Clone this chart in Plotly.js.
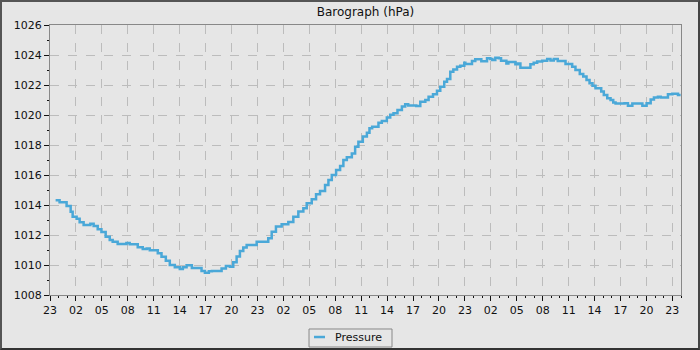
<!DOCTYPE html>
<html>
<head>
<meta charset="utf-8">
<script src="https://cdn.plot.ly/plotly-3.0.1.min.js"></script>
<style>
html,body{margin:0;padding:0;background:#e6e6e6;}
#frame{width:700px;height:350px;box-sizing:border-box;border:2px solid #555;border-right-color:#444;border-bottom-color:#333;}
#chart{width:696px;height:346px;}
</style>
</head>
<body>
<div id="frame"><div id="chart"></div></div>
<script>
// Hours since the first 23:00 tick
const hours = [0.65,1.11,1.92,2.39,2.62,3.08,3.43,3.89,4.67,5.05,5.52,5.95,6.44,6.91,7.25,7.83,8.84,9.22,10.15,10.73,11.19,11.54,12.47,12.90,13.40,13.86,14.44,15.02,15.37,15.80,16.41,17.53,17.92,18.38,18.73,19.85,20.35,20.81,21.20,21.59,21.97,22.36,22.75,23.91,25.25,25.65,26.14,26.80,27.57,28.15,28.73,29.31,29.70,30.28,30.78,31.24,31.82,32.21,32.60,33.10,33.56,33.94,34.34,34.92,35.30,35.68,36.19,36.66,36.96,37.27,38.00,38.39,38.97,39.36,39.74,40.20,40.71,41.09,41.44,42.37,42.84,43.42,43.80,44.31,44.77,45.15,45.61,45.93,46.31,46.66,47.09,47.47,47.93,48.05,48.82,49.20,49.90,50.56,50.94,51.17,51.52,51.91,52.18,52.80,53.03,53.84,54.11,54.42,55.58,55.96,56.36,56.94,57.52,57.90,58.28,58.74,59.64,60.41,60.79,61.29,61.69,62.07,62.42,62.76,63.11,63.77,64.07,64.47,64.85,65.16,65.43,66.47,66.86,67.37,68.53,69.02,69.49,69.87,70.33,70.65,71.49,72.00,72.65,72.96];
const pressure = [1014.32,1014.18,1013.93,1013.55,1013.22,1013.09,1012.85,1012.67,1012.75,1012.60,1012.38,1012.20,1011.89,1011.67,1011.55,1011.40,1011.47,1011.38,1011.18,1011.07,1011.10,1010.98,1010.78,1010.55,1010.29,1010.00,1009.85,1009.73,1009.85,1009.98,1009.80,1009.60,1009.49,1009.58,1009.60,1009.76,1009.93,1009.89,1010.18,1010.56,1010.93,1011.16,1011.33,1011.55,1011.78,1012.22,1012.56,1012.71,1012.87,1013.22,1013.56,1013.78,1014.11,1014.38,1014.71,1014.93,1015.33,1015.67,1016.00,1016.33,1016.60,1017.00,1017.18,1017.44,1017.89,1018.22,1018.56,1018.82,1019.11,1019.22,1019.49,1019.60,1019.84,1020.02,1020.11,1020.33,1020.56,1020.71,1020.64,1020.60,1020.89,1021.00,1021.22,1021.38,1021.62,1021.89,1022.22,1022.40,1022.89,1023.04,1023.22,1023.29,1023.49,1023.40,1023.60,1023.71,1023.58,1023.78,1023.73,1023.67,1023.82,1023.78,1023.62,1023.44,1023.53,1023.38,1023.44,1023.15,1023.38,1023.49,1023.56,1023.62,1023.73,1023.64,1023.73,1023.60,1023.40,1023.22,1023.00,1022.73,1022.56,1022.33,1022.11,1021.95,1021.78,1021.56,1021.33,1021.11,1021.00,1020.84,1020.76,1020.78,1020.62,1020.76,1020.62,1020.78,1021.04,1021.16,1021.22,1021.16,1021.38,1021.42,1021.33,1021.33];
const tickHours = [0,3,6,9,12,15,18,21,24,27,30,33,36,39,42,45,48,51,54,57,60,63,66,69,72];
const tickLabels = ['23','02','05','08','11','14','17','20','23','02','05','08','11','14','17','20','23','02','05','08','11','14','17','20','23'];
const seriesName = 'Pressure';
const lineColor = '#4aa8d8';

const font = {family: 'DejaVu Sans, sans-serif', size: 11, color: '#111'};

Plotly.newPlot('chart', [{
  x: hours, y: pressure, type: 'scatter', mode: 'lines', name: seriesName,
  line: {color: lineColor, width: 2.5, shape: 'hv'}
}], {
  width: 696, height: 346,
  margin: {l: 48, r: 17, t: 23, b: 53, autoexpand: false},
  paper_bgcolor: '#e6e6e6', plot_bgcolor: '#e6e6e6',
  font: font,
  title: {text: 'Barograph (hPa)', x: 0.5, xref: 'paper', xanchor: 'center', y: 0.985, yanchor: 'top', font: {family: 'DejaVu Sans, sans-serif', size: 12, color: '#111'}},
  showlegend: false,
  shapes: [
    {type: 'rect', xref: 'paper', yref: 'paper', x0: 0.4105, x1: 0.5420, y0: -0.1926, y1: -0.1259, line: {color: '#888', width: 1}, fillcolor: '#e6e6e6', layer: 'above'},
    {type: 'line', xref: 'paper', yref: 'paper', x0: 0.4184, x1: 0.4358, y0: -0.1556, y1: -0.1556, line: {color: lineColor, width: 2.5}, layer: 'above'}
  ],
  annotations: [
    {text: seriesName, xref: 'paper', yref: 'paper', x: 0.4889, y: -0.1556, xanchor: 'center', yanchor: 'middle', showarrow: false, font: font}
  ],
  xaxis: {
    range: [0, 73], tickmode: 'array', tickvals: tickHours, ticktext: tickLabels, automargin: false,
    ticks: 'outside', ticklen: 5, tickcolor: '#111', tickfont: font,
    showline: true, linecolor: '#888', mirror: true, zeroline: false,
    showgrid: true, gridcolor: '#bcbcbc', griddash: 'dash', gridwidth: 1,
    minor: {ticks: 'outside', dtick: 1, tick0: 0, ticklen: 2, tickcolor: '#111', showgrid: false}
  },
  yaxis: {
    range: [1008, 1026], dtick: 2, tick0: 1008, automargin: false,
    ticks: 'outside', ticklen: 5, tickcolor: '#111', tickfont: font,
    showline: true, linecolor: '#888', mirror: true, zeroline: false,
    showgrid: true, gridcolor: '#bcbcbc', griddash: 'dash', gridwidth: 1,
    minor: {ticks: 'outside', dtick: 1, ticklen: 2, tickcolor: '#111', showgrid: false}
  }
}, {displayModeBar: false, staticPlot: true});
</script>
</body>
</html>
